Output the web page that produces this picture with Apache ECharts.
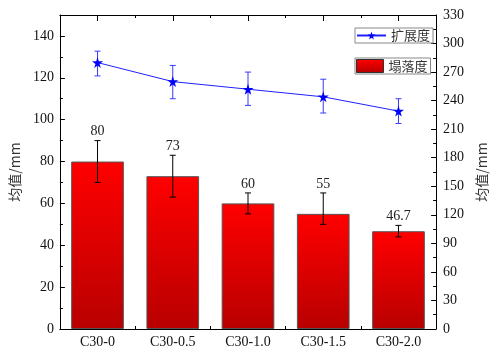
<!DOCTYPE html>
<html>
<head>
<meta charset="utf-8">
<script src="https://cdn.jsdelivr.net/npm/echarts@6/dist/echarts.min.js"></script>
<style>html,body{margin:0;padding:0;background:#fff}#c{width:497px;height:349px}</style>
</head>
<body>
<div id="c"></div>
<script>
// ---- data ----
const categories = ['C30-0', 'C30-0.5', 'C30-1.0', 'C30-1.5', 'C30-2.0'];
const slumpValues = [80, 73, 60, 55, 46.7];
const slumpLow = [70, 63, 55, 50, 44];
const slumpHigh = [90, 83, 65, 65, 49.5];
const slumpLabels = ['80', '73', '60', '55', '46.7'];
const spreadValues = [280, 260, 252, 244, 229];
const spreadLow = [266, 242, 235, 227, 216];
const spreadHigh = [292, 277, 270, 262.5, 242];
const leftTicks = { min: 0, max: 150, interval: 20 };
const rightTicks = { min: 0, max: 330, interval: 30 };

const serif = '"Liberation Serif", "Times New Roman", serif';
const cjk = '"Noto Sans CJK SC", sans-serif';
const star = 'path://M50,0 L61,35 L98,35 L68,57 L79,91 L50,70 L21,91 L32,57 L2,35 L39,35 Z';

const chart = echarts.init(document.getElementById('c'), null, { renderer: 'canvas' });

function errRender(color, labels) {
  return function (params, api) {
    const x = api.value(0);
    const lo = api.coord([x, api.value(1)]);
    const hi = api.coord([x, api.value(2)]);
    const w = 3;
    const st = { stroke: color, lineWidth: 1 };
    const children = [
      { type: 'line', shape: { x1: lo[0], y1: lo[1], x2: hi[0], y2: hi[1] }, style: st },
      { type: 'line', shape: { x1: hi[0] - w, y1: hi[1], x2: hi[0] + w, y2: hi[1] }, style: st },
      { type: 'line', shape: { x1: lo[0] - w, y1: lo[1], x2: lo[0] + w, y2: lo[1] }, style: st }
    ];
    if (labels) {
      children.push({
        type: 'text',
        style: {
          text: labels[params.dataIndex], x: hi[0], y: hi[1] - 2,
          textAlign: 'center', textVerticalAlign: 'bottom',
          fontSize: 14, fontFamily: serif, fill: '#222'
        }
      });
    }
    return { type: 'group', children };
  };
}

const barGradient = new echarts.graphic.LinearGradient(0, 0, 0, 1, [
  { offset: 0, color: '#ff0000' },
  { offset: 1, color: '#b80000' }
]);

const catAxisBase = {
  type: 'category', data: categories, boundaryGap: true,
  splitLine: { show: false }
};

const option = {
  animation: false,
  backgroundColor: '#fff',
  grid: { left: 55, right: 50, top: 15, bottom: 20, containLabel: false },
  legend: [
    {
      data: [{ name: '扩展度' }], left: 355, top: 28, orient: 'vertical',
      padding: [1, 3, 1, 1], borderColor: '#888', borderWidth: 1,
      itemWidth: 29, itemHeight: 10, itemGap: 4,
      textStyle: { fontFamily: cjk, fontSize: 13, color: '#333' }
    },
    {
      data: [{ name: '塌落度', icon: 'rect', itemStyle: { borderColor: '#333', borderWidth: 1 } }],
      left: 355, top: 58, orient: 'vertical',
      padding: [1, 3, 1, 1], borderColor: '#888', borderWidth: 1,
      itemWidth: 27, itemHeight: 13, itemGap: 4,
      textStyle: { fontFamily: cjk, fontSize: 13, color: '#333' }
    }
  ],
  xAxis: [
    Object.assign({}, catAxisBase, {
      position: 'bottom',
      axisLine: { show: true, lineStyle: { color: '#000', width: 1 } },
      axisTick: { show: true, inside: true, alignWithLabel: true, length: 6, lineStyle: { color: '#000' } },
      axisLabel: { fontFamily: serif, fontSize: 14, color: '#111', margin: 6 }
    }),
    Object.assign({}, catAxisBase, {
      position: 'bottom',
      axisLine: { show: false },
      axisTick: { show: true, inside: true, length: 3, lineStyle: { color: '#000' } },
      axisLabel: { show: false }
    }),
    Object.assign({}, catAxisBase, {
      position: 'top',
      axisLine: { show: true, lineStyle: { color: '#000', width: 1 } },
      axisTick: { show: true, inside: true, alignWithLabel: true, length: 6, lineStyle: { color: '#000' } },
      axisLabel: { show: false }
    }),
    Object.assign({}, catAxisBase, {
      position: 'top',
      axisLine: { show: false },
      axisTick: { show: true, inside: true, length: 3, lineStyle: { color: '#000' } },
      axisLabel: { show: false }
    })
  ],
  yAxis: [
    {
      type: 'value', position: 'left',
      min: leftTicks.min, max: leftTicks.max, interval: leftTicks.interval,
      name: '均值/mm', nameLocation: 'middle', nameGap: 36, nameRotate: 90,
      nameTextStyle: { fontFamily: cjk, fontSize: 14, color: '#333' },
      axisLine: { show: true, lineStyle: { color: '#000', width: 1 } },
      axisTick: { show: true, inside: true, length: 5, lineStyle: { color: '#000' } },
      minorTick: { show: true, splitNumber: 2, length: 3, lineStyle: { color: '#000' } },
      axisLabel: { fontFamily: serif, fontSize: 14, color: '#111', margin: 6, showMaxLabel: false },
      splitLine: { show: false }
    },
    {
      type: 'value', position: 'right',
      min: rightTicks.min, max: rightTicks.max, interval: rightTicks.interval,
      name: '均值/mm', nameLocation: 'middle', nameGap: 38, nameRotate: 90,
      nameTextStyle: { fontFamily: cjk, fontSize: 14, color: '#333' },
      axisLine: { show: true, lineStyle: { color: '#000', width: 1 } },
      axisTick: { show: true, inside: true, length: 5, lineStyle: { color: '#000' } },
      minorTick: { show: true, splitNumber: 2, length: 3, lineStyle: { color: '#000' } },
      axisLabel: { fontFamily: serif, fontSize: 14, color: '#111', margin: 7 },
      splitLine: { show: false }
    }
  ],
  series: [
    {
      name: '塌落度', type: 'bar', xAxisIndex: 0, yAxisIndex: 0,
      data: slumpValues, barWidth: '70%',
      itemStyle: { color: barGradient, borderColor: '#555', borderWidth: 1 },
      z: 2
    },
    {
      name: 'slumpErr', type: 'custom', xAxisIndex: 0, yAxisIndex: 0,
      renderItem: errRender('#000', slumpLabels),
      data: categories.map((c, i) => [i, slumpLow[i], slumpHigh[i]]),
      z: 3
    },
    {
      name: '扩展度', type: 'line', xAxisIndex: 0, yAxisIndex: 1,
      data: spreadValues, symbol: star, symbolSize: 11,
      lineStyle: { color: '#2020ff', width: 1 },
      itemStyle: { color: '#0000ff' },
      z: 5
    },
    {
      name: 'spreadErr', type: 'custom', xAxisIndex: 0, yAxisIndex: 1,
      renderItem: errRender('#3a3aff', null),
      data: categories.map((c, i) => [i, spreadLow[i], spreadHigh[i]]),
      z: 4
    }
  ]
};
chart.setOption(option);
</script>
</body>
</html>
